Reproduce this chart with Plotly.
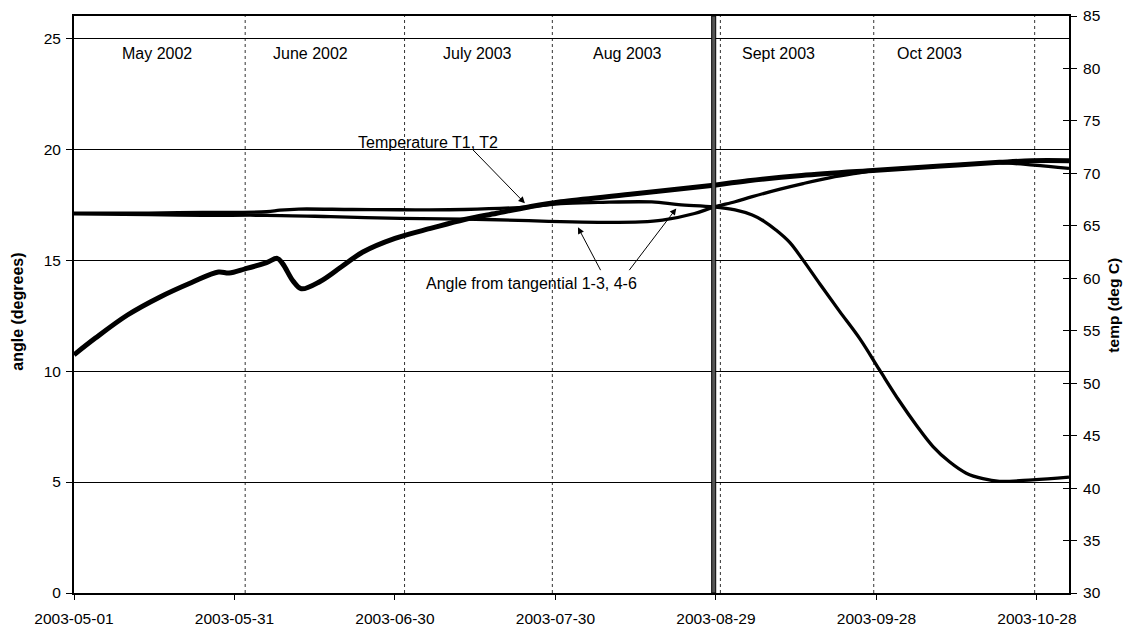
import plotly.graph_objects as go

# ---------------- data ----------------
temp_dates = ["2003-05-01", "2003-05-05", "2003-05-11", "2003-05-17", "2003-05-23",
              "2003-05-28", "2003-05-30", "2003-06-02", "2003-06-06", "2003-06-08",
              "2003-06-09", "2003-06-11", "2003-06-12 12:00", "2003-06-16", "2003-06-20",
              "2003-06-24", "2003-06-30", "2003-07-07", "2003-07-13", "2003-07-19",
              "2003-07-25", "2003-07-31", "2003-08-13", "2003-08-29", "2003-09-04",
              "2003-09-14", "2003-09-28", "2003-10-10", "2003-10-21", "2003-10-27",
              "2003-11-03"]
temp_values = [52.7, 54.3, 56.5, 58.2, 59.6,
               60.6, 60.5, 60.9, 61.5, 61.9,
               61.4, 59.7, 59.0, 59.7, 61.1,
               62.5, 63.8, 64.8, 65.6, 66.2,
               66.8, 67.3, 68.0, 68.9, 69.3,
               69.8, 70.3, 70.7, 71.05, 71.2,
               71.2]

angle13_dates = ["2003-05-01", "2003-05-15", "2003-05-25", "2003-06-06", "2003-06-08 12:00",
                 "2003-06-12", "2003-06-22", "2003-07-01", "2003-07-13", "2003-07-25",
                 "2003-07-31", "2003-08-07", "2003-08-17", "2003-08-22", "2003-08-28 12:00",
                 "2003-09-01 14:00", "2003-09-04 19:00", "2003-09-07", "2003-09-09 05:00", "2003-09-11 19:00",
                 "2003-09-14 07:00", "2003-09-17 12:00", "2003-09-21 02:00", "2003-09-24 22:00", "2003-09-28 14:00",
                 "2003-10-02 07:00", "2003-10-05 12:00", "2003-10-08 14:00", "2003-10-11 17:00", "2003-10-14 19:00",
                 "2003-10-17 22:00", "2003-10-21", "2003-10-27 05:00", "2003-11-03"]
angle13_values = [17.12, 17.12, 17.15, 17.18, 17.25,
                  17.30, 17.28, 17.27, 17.28, 17.40,
                  17.55, 17.60, 17.62, 17.50, 17.40,
                  17.26, 17.03, 16.75, 16.36, 15.80,
                  15.00, 13.90, 12.70, 11.45, 10.05,
                  8.65, 7.55, 6.60, 5.90, 5.40,
                  5.15, 5.03, 5.10, 5.22]

angle46_dates = ["2003-05-01", "2003-05-15", "2003-05-25", "2003-06-06", "2003-06-18",
                 "2003-07-01", "2003-07-13", "2003-07-25", "2003-07-31", "2003-08-07",
                 "2003-08-15", "2003-08-19", "2003-08-25", "2003-08-28 12:00", "2003-09-01 14:00",
                 "2003-09-04 19:00", "2003-09-10", "2003-09-14 07:00", "2003-09-19 10:00", "2003-09-24 10:00",
                 "2003-09-27 12:00", "2003-10-09 14:00", "2003-10-21", "2003-10-27 10:00", "2003-11-03"]
angle46_values = [17.08, 17.05, 17.02, 17.02, 16.96,
                  16.88, 16.85, 16.78, 16.73, 16.70,
                  16.72, 16.80, 17.10, 17.38, 17.63,
                  17.86, 18.20, 18.45, 18.72, 18.92,
                  19.03, 19.24, 19.38, 19.28, 19.13]

x_range = ["2003-05-01", "2003-11-03"]
x_tick0 = "2003-05-01"
x_tick_days = 30
angle_range = [0, 26]
temp_range = [30, 85]

month_labels = ["May 2002", "June 2002", "July 2003", "Aug 2003", "Sept 2003", "Oct 2003"]
month_label_dates = ["2003-05-16 12:00", "2003-06-14 07:00", "2003-07-15 12:00",
                     "2003-08-12 12:00", "2003-09-09 17:00", "2003-10-08 00:00"]
month_label_value = 24.3

separator_dates = ["2003-06-02 00:00", "2003-07-01 19:00", "2003-07-29 10:00",
                   "2003-08-29 20:00", "2003-09-27 12:00", "2003-10-27 14:00"]
event_bar_dates = ["2003-08-28 05:00", "2003-08-28 23:00"]

FONT = "Arial, 'Liberation Sans', sans-serif"
TXT = 16

fig = go.Figure()

line_shape = dict(shape="spline", smoothing=1.0)
fig.add_trace(go.Scatter(x=angle13_dates, y=angle13_values, mode="lines",
                         line=dict(color="black", width=3.3, **line_shape),
                         name="Angle 1-3", showlegend=False, hoverinfo="skip"))
fig.add_trace(go.Scatter(x=angle46_dates, y=angle46_values, mode="lines",
                         line=dict(color="black", width=3.3, **line_shape),
                         name="Angle 4-6", showlegend=False, hoverinfo="skip"))
fig.add_trace(go.Scatter(x=temp_dates, y=temp_values, yaxis="y2", mode="lines",
                         line=dict(color="black", width=5, **line_shape),
                         name="Temperature", showlegend=False, hoverinfo="skip"))
# helper traces so inside tick axes are drawn
fig.add_trace(go.Scatter(x=[None], y=[None], yaxis="y3", showlegend=False, hoverinfo="skip"))
fig.add_trace(go.Scatter(x=[None], y=[None], yaxis="y4", showlegend=False, hoverinfo="skip"))

shapes = []
for d in separator_dates:
    shapes.append(dict(type="line", xref="x", yref="paper", x0=d, x1=d, y0=0, y1=1,
                       line=dict(color="#333", width=1, dash="dot"), layer="below"))
shapes.append(dict(type="rect", xref="x", yref="paper", x0=event_bar_dates[0], x1=event_bar_dates[1],
                   y0=0, y1=1, fillcolor="#555", line=dict(color="black", width=1), layer="above"))

annotations = []
for lab, d in zip(month_labels, month_label_dates):
    annotations.append(dict(x=d, y=month_label_value, xref="x", yref="y", text=lab,
                            showarrow=False, font=dict(size=TXT, family=FONT, color="black")))

annotations.append(dict(x="2003-07-06 05:00", y=20.28, xref="x", yref="y",
                        text="Temperature T1, T2", showarrow=False,
                        font=dict(size=TXT, family=FONT, color="black")))
annotations.append(dict(x="2003-07-25 14:00", y=13.93, xref="x", yref="y",
                        text="Angle from tangential 1-3, 4-6", showarrow=False,
                        font=dict(size=TXT, family=FONT, color="black")))
# arrows
arrow_style = dict(showarrow=True, arrowhead=2, arrowsize=1.3, arrowwidth=1, arrowcolor="black",
                   text="", xref="x", yref="y", axref="x", ayref="y", standoff=0, startstandoff=0)
annotations.append(dict(x="2003-07-24 07:00", y=17.56, ax="2003-07-14 07:00", ay=20.04, **arrow_style))
annotations.append(dict(x="2003-08-03 05:00", y=16.48, ax="2003-08-07 14:00", ay=14.48, **arrow_style))
annotations.append(dict(x="2003-08-21 14:00", y=17.33, ax="2003-08-12 14:00", ay=14.48, **arrow_style))

# axis titles
annotations.append(dict(x=(18 - 74) / 995, y=0.4875, xref="paper", yref="paper",
                        text="<b>angle (degrees)</b>", textangle=-90, showarrow=False,
                        xanchor="center", yanchor="middle",
                        font=dict(size=TXT, family=FONT, color="black")))
annotations.append(dict(x=(1114 - 74) / 995, y=0.498, xref="paper", yref="paper",
                        text="<b>temp (deg C)</b>", textangle=-90, showarrow=False,
                        xanchor="center", yanchor="middle",
                        font=dict(size=15.5, family=FONT, color="black")))

tickfont = dict(size=15.5, family=FONT, color="black")

fig.update_layout(
    width=1133, height=628,
    margin=dict(l=74, r=64, t=16, b=35, pad=0, autoexpand=False),
    paper_bgcolor="white", plot_bgcolor="white",
    font=dict(family=FONT, color="black"),
    showlegend=False,
    xaxis=dict(type="date", range=x_range, tick0=x_tick0, dtick=x_tick_days * 86400000,
               tickformat="%Y-%m-%d", ticks="outside", ticklen=5, tickwidth=1, tickcolor="black",
               showline=True, linecolor="black", linewidth=2, mirror=True, automargin=False,
               showgrid=False, zeroline=False, tickfont=tickfont, ticklabelstandoff=5),
    yaxis=dict(range=angle_range, tick0=0, dtick=5, ticks="outside", ticklen=6, tickwidth=1,
               tickcolor="black", showline=True, linecolor="black", linewidth=2, automargin=False,
               showgrid=True, gridcolor="black", gridwidth=1, zeroline=False,
               tickfont=tickfont, ticklabelstandoff=2),
    yaxis2=dict(range=temp_range, tick0=30, dtick=5, overlaying="y", side="right",
                ticks="outside", ticklen=6, tickwidth=1, tickcolor="black", automargin=False,
                showline=True, linecolor="black", linewidth=2, showgrid=False, zeroline=False,
                tickfont=tickfont, ticklabelstandoff=3),
    yaxis3=dict(range=angle_range, tick0=0, dtick=5, overlaying="y", side="left",
                ticks="inside", ticklen=6, tickwidth=1, tickcolor="black", automargin=False,
                showticklabels=False, showline=False, showgrid=False, zeroline=False),
    yaxis4=dict(range=temp_range, tick0=30, dtick=5, overlaying="y", side="right",
                ticks="inside", ticklen=6, tickwidth=1, tickcolor="black", automargin=False,
                showticklabels=False, showline=False, showgrid=False, zeroline=False),
    shapes=shapes,
    annotations=annotations,
)

fig.write_html("out.html", config={"displayModeBar": False, "staticPlot": True},
               post_script="document.body.style.margin='0';document.body.style.overflow='hidden';")
